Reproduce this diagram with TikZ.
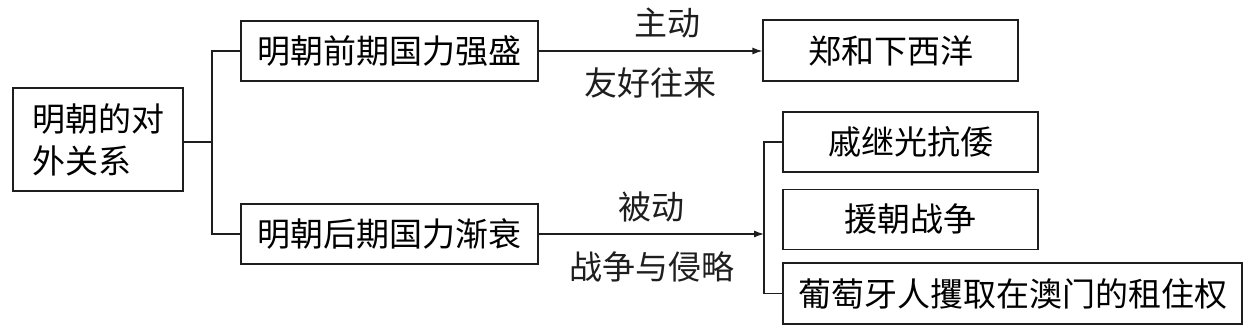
\documentclass[tikz,border=0pt]{standalone}
\usepackage{fontspec}
\usepackage{tikz}
\usetikzlibrary{arrows.meta,positioning}
\newfontfamily\cjk{Noto Sans CJK SC}
\definecolor{inkline}{HTML}{1E1E1E}

\begin{document}
\begin{tikzpicture}[
  x=1pt, y=-1pt,
  font=\cjk\fontsize{33}{42}\selectfont,
  box/.style={draw=inkline, line width=1.2pt, align=center, minimum height=60pt, inner sep=0pt},
  rootbox/.style={draw=inkline, line width=1.2pt, align=left, text width=132pt, minimum width=170pt, minimum height=103pt, inner sep=0pt},
  tag/.style={text=inkline, inner sep=0pt},
  link/.style={draw=inkline, line width=1.2pt},
  >={Latex[length=10pt,width=7pt]}
]
\useasboundingbox (0,0) rectangle (1259,328);

\node[rootbox] (root) at (98,139.5) {明朝的对\\外关系};
\node[box, minimum width=297pt] (early) at (389.5,51) {明朝前期国力强盛};
\node[box, minimum width=297pt] (late) at (389.5,234) {明朝后期国力渐衰};

\node[box, minimum width=255pt, minimum height=61pt] (zheng) at (890.5,50.5) {郑和下西洋};
\node[box, minimum width=255pt] (qi) at (910.5,142) {戚继光抗倭};
\node[box, minimum width=255pt, below=16pt of qi] (yuan) {援朝战争};
\node[box, minimum width=459pt, minimum height=61pt] (macau) at (1012.5,293.5) {葡萄牙人攫取在澳门的租住权};

\node[tag] (active) at (667,23) {主动};
\node[tag] (friendly) at (650,83) {友好往来};
\node[tag] (passive) at (651,207) {被动};
\node[tag] (war) at (652,267) {战争与侵略};

\coordinate (fork) at (212,142);
\coordinate (bar) at (764,234);

\draw[link] (root.east |- fork) -- (fork);
\draw[link] (early.west) -| (fork) |- (late.west);
\draw[link, ->] (early.east) -- (early.east -| zheng.west);
\draw[link, ->] (late.east) -- (bar);
\draw[link] (qi.west) -| (bar) |- (macau.west);
\end{tikzpicture}
\end{document}
